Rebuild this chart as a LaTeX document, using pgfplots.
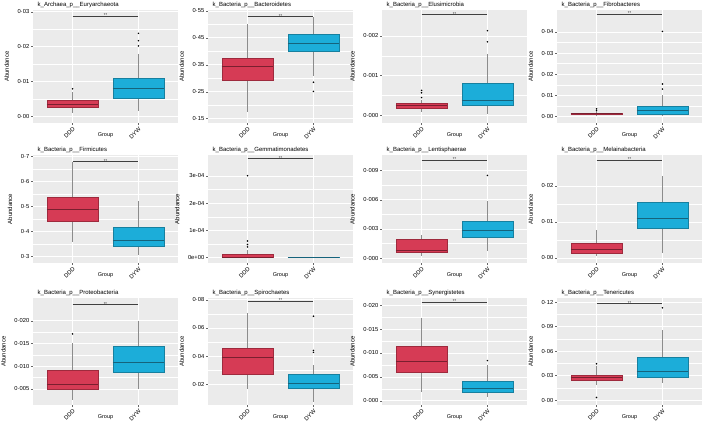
\documentclass[border=0pt]{standalone}
\usepackage{fontspec}
\setmainfont{Liberation Sans}
\usepackage{pgfplots}
\pgfplotsset{compat=1.18}
\usepgfplotslibrary{statistics}
\definecolor{panelgrey}{HTML}{EBEBEB}
\definecolor{dddfill}{HTML}{D63B55}
\definecolor{dddline}{HTML}{9E2A3D}
\definecolor{dddmed}{HTML}{7A1F2F}
\definecolor{dywfill}{HTML}{1CADD9}
\definecolor{dywline}{HTML}{17809F}
\definecolor{dywmed}{HTML}{15637C}
\definecolor{whisk}{HTML}{8C8C8C}
\pgfplotsset{
  boxplot/draw direction=y,
  boxplot/box extend=0.78,
  boxplot/whisker extend=0,
  panel/.style={
    scale only axis, width=145pt, height=#1, anchor=north west,
    xmin=0.4, xmax=2.6, xtick={1,2}, xticklabels={DDD,DYW},
    scaled y ticks=false,
    axis background/.style={fill=panelgrey},
    axis line style={draw=none},
    grid=both,
    major grid style={white, line width=0.6pt},
    minor grid style={white, line width=0.3pt},
    minor y tick num=1, minor x tick num=0,
    tick style={black!60, line width=0.4pt},
    major tick length=2pt, minor tick length=0pt,
    tick align=outside, tick pos=left,
    x tick label style={rotate=45, anchor=north east, font=\fontsize{5.8}{6.5}\selectfont, inner sep=1pt},
    y tick label style={font=\fontsize{5.8}{6.5}\selectfont, inner sep=1.5pt},
    xlabel={Group}, ylabel={Abundance},
    xlabel style={at={(axis description cs:0.5,0)}, anchor=north, yshift=-9pt, inner sep=0pt, font=\fontsize{5.5}{6.5}\selectfont},
    ylabel style={inner sep=1pt, font=\fontsize{6}{7}\selectfont},
    ylabel shift=6pt,
    every axis title/.style={at={(0,1)}, anchor=south west, font=\fontsize{6}{7}\selectfont, inner sep=0.5pt, xshift=4pt, yshift=1.5pt},
  },
  ddd/.style={draw=dddline, fill=dddfill, line width=0.5pt,
    boxplot/every median/.style={draw=dddmed, line width=0.9pt},
    boxplot/every whisker/.style={draw=whisk, line width=0.45pt, fill=none}},
  dyw/.style={draw=dywline, fill=dywfill, line width=0.5pt,
    boxplot/every median/.style={draw=dywmed, line width=0.9pt},
    boxplot/every whisker/.style={draw=whisk, line width=0.45pt, fill=none}},
  outl/.style={only marks, mark=*, mark size=0.55pt, draw=none, fill=black!70, mark options={draw=none, fill=black!70}},
}
\newcommand\sig[1]{\addplot[draw=black!75, line width=0.6pt, mark=none] coordinates {(1,#1) (2,#1)} node[pos=0.5, above, inner sep=0pt, yshift=-1.2pt, font=\fontsize{4}{4}\selectfont] {**};}
\begin{document}
\begin{tikzpicture}
\useasboundingbox (0,0) rectangle (709pt,-429pt);
% ---------- Row 1 ----------
\begin{axis}[panel=113pt, at={(33pt,-10pt)},
  title={k\_Archaea\_p\_\_Euryarchaeota},
  ymin=-0.0019, ymax=0.0305, ytick={0,0.01,0.02,0.03}, yticklabels={0·00,0·01,0·02,0·03}]
\addplot[ddd, boxplot prepared={draw position=1, median=0.0035, lower quartile=0.00257, upper quartile=0.00457, lower whisker=0.001, upper whisker=0.0071}] coordinates {};
\addplot[dyw, boxplot prepared={draw position=2, median=0.0081, lower quartile=0.0052, upper quartile=0.011, lower whisker=0.0015, upper whisker=0.018}] coordinates {};
\addplot[outl] coordinates {(1,0.0079) (2,0.0202) (2,0.0217) (2,0.0238)};
\sig{0.0288}
\end{axis}
\begin{axis}[panel=113pt, at={(208pt,-10pt)},
  title={k\_Bacteria\_p\_\_Bacteroidetes},
  ymin=0.134, ymax=0.553, ytick={0.15,0.25,0.35,0.45,0.55}, yticklabels={0·15,0·25,0·35,0·45,0·55}]
\addplot[ddd, boxplot prepared={draw position=1, median=0.343, lower quartile=0.291, upper quartile=0.375, lower whisker=0.176, upper whisker=0.502}] coordinates {};
\addplot[dyw, boxplot prepared={draw position=2, median=0.43, lower quartile=0.399, upper quartile=0.463, lower whisker=0.309, upper whisker=0.526}] coordinates {};
\addplot[outl] coordinates {(2,0.285) (2,0.251)};
\sig{0.528}
\end{axis}
% values in units of 1e-3
\begin{axis}[panel=113pt, at={(382pt,-10pt)},
  title={k\_Bacteria\_p\_\_Elusimicrobia},
  ymin=-0.19, ymax=2.65, ytick={0,1,2}, yticklabels={0·000,0·001,0·002}]
\addplot[ddd, boxplot prepared={draw position=1, median=0.25, lower quartile=0.185, upper quartile=0.31, lower whisker=0.08, upper whisker=0.4}] coordinates {};
\addplot[dyw, boxplot prepared={draw position=2, median=0.38, lower quartile=0.25, upper quartile=0.8, lower whisker=0.04, upper whisker=1.55}] coordinates {};
\addplot[outl] coordinates {(1,0.45) (1,0.57) (1,0.63) (2,1.85) (2,2.13)};
\sig{2.54}
\end{axis}
\begin{axis}[panel=113pt, at={(557pt,-10pt)},
  title={k\_Bacteria\_p\_\_Fibrobacteres},
  ymin=-0.003, ymax=0.0503, ytick={0,0.01,0.02,0.03,0.04}, yticklabels={0·00,0·01,0·02,0·03,0·04}]
\addplot[ddd, boxplot prepared={draw position=1, median=0.0015, lower quartile=0.0011, upper quartile=0.0018, lower whisker=0.0005, upper whisker=0.0025}] coordinates {};
\addplot[dyw, boxplot prepared={draw position=2, median=0.0028, lower quartile=0.0011, upper quartile=0.0049, lower whisker=0.0003, upper whisker=0.0102}] coordinates {};
\addplot[outl] coordinates {(1,0.003) (1,0.0037) (2,0.013) (2,0.0154) (2,0.0402)};
\sig{0.0484}
\end{axis}
% ---------- Row 2 ----------
\begin{axis}[panel=108pt, at={(33pt,-155pt)},
  title={k\_Bacteria\_p\_\_Firmicutes},
  ymin=0.274, ymax=0.705, ytick={0.3,0.4,0.5,0.6,0.7}, yticklabels={0·3,0·4,0·5,0·6,0·7}]
\addplot[ddd, boxplot prepared={draw position=1, median=0.489, lower quartile=0.439, upper quartile=0.535, lower whisker=0.359, upper whisker=0.676}] coordinates {};
\addplot[dyw, boxplot prepared={draw position=2, median=0.366, lower quartile=0.34, upper quartile=0.416, lower whisker=0.304, upper whisker=0.52}] coordinates {};
\sig{0.68}
\end{axis}
% values in units of 1e-4
\begin{axis}[panel=108pt, at={(208pt,-155pt)},
  title={k\_Bacteria\_p\_\_Gemmatimonadetes},
  ymin=-0.2, ymax=3.77, ytick={0,1,2,3}, yticklabels={0e+00,1e-04,2e-04,3e-04}]
\addplot[ddd, boxplot prepared={draw position=1, median=0.01, lower quartile=0, upper quartile=0.14, lower whisker=0, upper whisker=0.27}] coordinates {};
\addplot[dyw, boxplot prepared={draw position=2, median=0, lower quartile=0, upper quartile=0.005, lower whisker=0, upper whisker=0.005}] coordinates {};
\addplot[outl] coordinates {(1,0.39) (1,0.48) (1,0.61) (1,3.01)};
\sig{3.65}
\end{axis}
% values in units of 1e-3
\begin{axis}[panel=108pt, at={(382pt,-155pt)},
  title={k\_Bacteria\_p\_\_Lentisphaerae},
  ymin=-0.5, ymax=10.6, ytick={0,3,6,9}, yticklabels={0·000,0·003,0·006,0·009}]
\addplot[ddd, boxplot prepared={draw position=1, median=0.78, lower quartile=0.6, upper quartile=1.95, lower whisker=0.17, upper whisker=2.36}] coordinates {};
\addplot[dyw, boxplot prepared={draw position=2, median=2.87, lower quartile=2.12, upper quartile=3.78, lower whisker=0.78, upper whisker=5.9}] coordinates {};
\addplot[outl] coordinates {(2,8.5)};
\sig{10.1}
\end{axis}
\begin{axis}[panel=108pt, at={(557pt,-155pt)},
  title={k\_Bacteria\_p\_\_Melainabacteria},
  ymin=-0.0014, ymax=0.0286, ytick={0,0.01,0.02}, yticklabels={0·00,0·01,0·02}]
\addplot[ddd, boxplot prepared={draw position=1, median=0.0023, lower quartile=0.0014, upper quartile=0.0041, lower whisker=0.0005, upper whisker=0.0078}] coordinates {};
\addplot[dyw, boxplot prepared={draw position=2, median=0.011, lower quartile=0.0083, upper quartile=0.0154, lower whisker=0.0014, upper whisker=0.0228}] coordinates {};
\sig{0.0272}
\end{axis}
% ---------- Row 3 ----------
\begin{axis}[panel=107pt, at={(33pt,-298pt)},
  title={k\_Bacteria\_p\_\_Proteobacteria},
  ymin=0.00147, ymax=0.025, ytick={0.005,0.01,0.015,0.02}, yticklabels={0·005,0·010,0·015,0·020}]
\addplot[ddd, boxplot prepared={draw position=1, median=0.006, lower quartile=0.0049, upper quartile=0.0092, lower whisker=0.0026, upper whisker=0.015}] coordinates {};
\addplot[dyw, boxplot prepared={draw position=2, median=0.0109, lower quartile=0.0086, upper quartile=0.0143, lower whisker=0.0049, upper whisker=0.0199}] coordinates {};
\addplot[outl] coordinates {(1,0.0171)};
\sig{0.0236}
\end{axis}
\begin{axis}[panel=107pt, at={(208pt,-298pt)},
  title={k\_Bacteria\_p\_\_Spirochaetes},
  ymin=0.0054, ymax=0.0812, ytick={0.02,0.04,0.06,0.08}, yticklabels={0·02,0·04,0·06,0·08}]
\addplot[ddd, boxplot prepared={draw position=1, median=0.039, lower quartile=0.0273, upper quartile=0.0456, lower whisker=0.0168, upper whisker=0.0708}] coordinates {};
\addplot[dyw, boxplot prepared={draw position=2, median=0.0207, lower quartile=0.0176, upper quartile=0.0273, lower whisker=0.0078, upper whisker=0.0334}] coordinates {};
\addplot[outl] coordinates {(2,0.0427) (2,0.0441) (2,0.0683)};
\sig{0.0791}
\end{axis}
\begin{axis}[panel=107pt, at={(382pt,-298pt)},
  title={k\_Bacteria\_p\_\_Synergistetes},
  ymin=-0.0009, ymax=0.0215, ytick={0,0.005,0.01,0.015,0.02}, yticklabels={0·000,0·005,0·010,0·015,0·020}]
\addplot[ddd, boxplot prepared={draw position=1, median=0.0082, lower quartile=0.006, upper quartile=0.0115, lower whisker=0.0019, upper whisker=0.0174}] coordinates {};
\addplot[dyw, boxplot prepared={draw position=2, median=0.0026, lower quartile=0.0017, upper quartile=0.0041, lower whisker=0.0008, upper whisker=0.0074}] coordinates {};
\addplot[outl] coordinates {(2,0.0084)};
\sig{0.0207}
\end{axis}
\begin{axis}[panel=107pt, at={(557pt,-298pt)},
  title={k\_Bacteria\_p\_\_Tenericutes},
  ymin=-0.006, ymax=0.125, ytick={0,0.03,0.06,0.09,0.12}, yticklabels={0·00,0·03,0·06,0·09,0·12}]
\addplot[ddd, boxplot prepared={draw position=1, median=0.0278, lower quartile=0.0238, upper quartile=0.031, lower whisker=0.0179, upper whisker=0.0417}] coordinates {};
\addplot[dyw, boxplot prepared={draw position=2, median=0.0346, lower quartile=0.0278, upper quartile=0.0528, lower whisker=0.021, upper whisker=0.0854}] coordinates {};
\addplot[outl] coordinates {(1,0.0445) (1,0.0032) (2,0.113)};
\sig{0.1184}
\end{axis}
\end{tikzpicture}
\end{document}
